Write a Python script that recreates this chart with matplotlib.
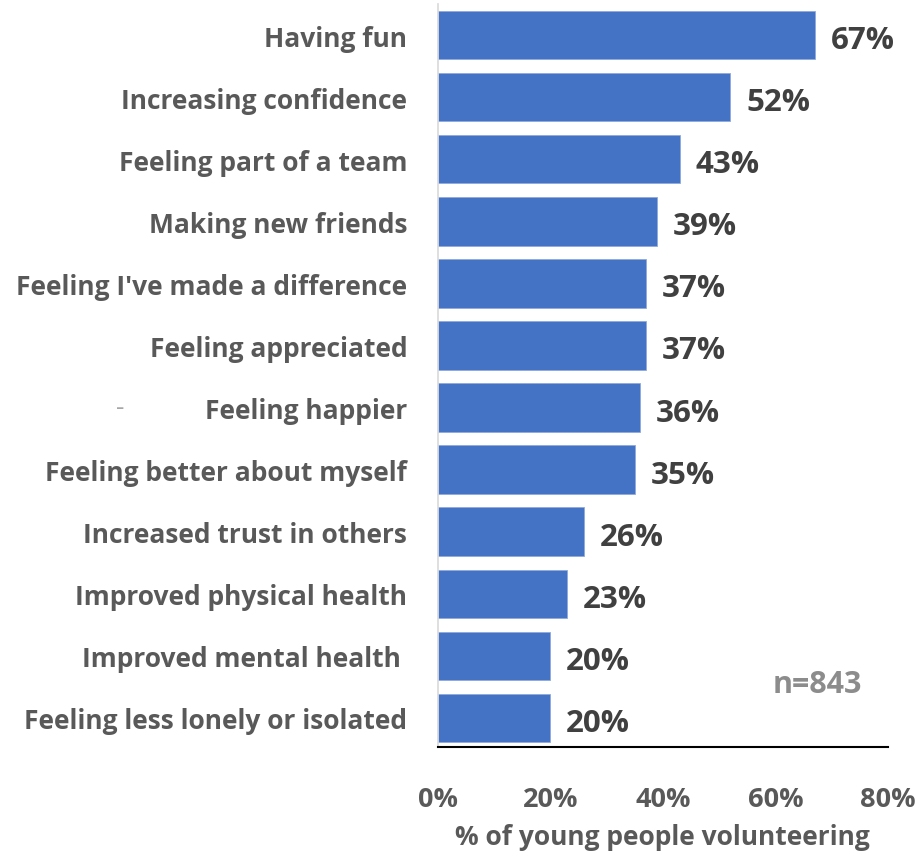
import matplotlib.pyplot as plt
from matplotlib.ticker import PercentFormatter

benefits = [
    "Having fun",
    "Increasing confidence",
    "Feeling part of a team",
    "Making new friends",
    "Feeling I've made a difference",
    "Feeling appreciated",
    "Feeling happier",
    "Feeling better about myself",
    "Increased trust in others",
    "Improved physical health",
    "Improved mental health ",
    "Feeling less lonely or isolated",
]
percent = [67, 52, 43, 39, 37, 37, 36, 35, 26, 23, 20, 20]
x_ticks = [0, 20, 40, 60, 80]

plt.rcParams['font.family'] = ['Open Sans', 'DejaVu Sans']
plt.rcParams['font.weight'] = 'bold'

fig = plt.figure(figsize=(9.2, 8.53), dpi=100)
ax = fig.add_axes([0.476, 0.123, 0.489, 0.871])

pos = list(range(len(benefits)))
ax.barh(pos, percent, height=0.78, color='#4472C4', edgecolor='#8FAADC', linewidth=0.6)

for y, v in zip(pos, percent):
    ax.text(v + 2.8, y + 0.08, f"{v}%", va='center', ha='left',
            fontsize=22.5, fontweight='bold', color='#404040')

ax.set_ylim(len(benefits) - 0.53, -0.5)
ax.set_xlim(0, 80)
ax.set_yticks(pos)
ax.set_yticklabels(benefits, fontsize=19, fontweight='bold', color='#595959')
ax.set_xticks(x_ticks)
ax.xaxis.set_major_formatter(PercentFormatter(decimals=0))
ax.tick_params(axis='x', length=0, pad=28, labelsize=19.5, labelcolor='#595959')
ax.tick_params(axis='y', length=0, pad=22)
for lbl in ax.get_xticklabels():
    lbl.set_fontweight('bold')

ax.spines['top'].set_visible(False)
ax.spines['right'].set_visible(False)
ax.spines['left'].set_color('#D9D9D9')
ax.spines['left'].set_linewidth(1.2)
ax.spines['bottom'].set_color('black')
ax.spines['bottom'].set_linewidth(1.5)

ax.set_xlabel("% of young people volunteering", fontsize=19, fontweight='bold',
              color='#595959', labelpad=8)

ax.text(0.942, 0.085, "n=843", transform=ax.transAxes, ha='right', va='center',
        fontsize=22, fontweight='bold', color='#8C8C8C')
fig.text(0.131, 1 - 409 / 853, "-", ha='center', va='center', fontsize=19,
         color='#A6A6A6', fontweight='normal')

fig.savefig('out.png', dpi=100)
